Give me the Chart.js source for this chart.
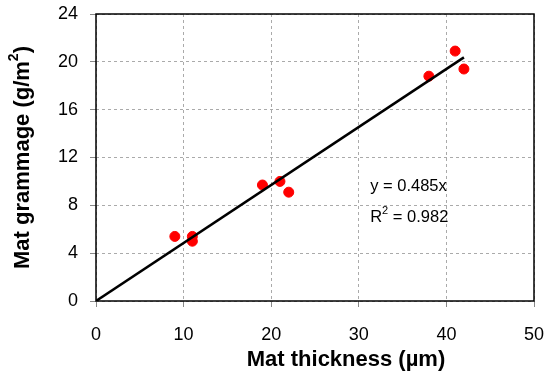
<!DOCTYPE html>
<html>
<head>
<meta charset="utf-8">
<script src="https://cdn.jsdelivr.net/npm/chart.js@4/dist/chart.umd.min.js"></script>
<style>
  html, body { margin: 0; padding: 0; background: #fff; }
  #wrap { width: 550px; height: 382px; }
</style>
</head>
<body>
<div id="wrap"><canvas id="chart" width="550" height="382"></canvas></div>
<script>
// measured points
const thickness = [9, 11, 11, 19, 21, 22, 38, 41, 42];
const grammage = [5.4, 5.4, 5.0, 9.7, 10.0, 9.1, 18.8, 20.9, 19.4];
// linear fit through origin
const slope = 0.485;
const rSquared = 0.982;
const fitX = [0, 42];
const fitY = fitX.map(x => x * slope);
const xTicks = [0, 10, 20, 30, 40, 50];
const yTicks = [0, 4, 8, 12, 16, 20, 24];

const FONT = 'Liberation Sans, Arial, sans-serif';

// draws text pieces in a row, some raised as superscript
function drawParts(ctx, parts, x, y, size) {
  let cx = x;
  parts.forEach(p => {
    const s = p.sup ? Math.round(size * 0.65) : size;
    ctx.font = (p.bold ? 'bold ' : '') + s + 'px ' + FONT;
    ctx.fillText(p.t, cx, p.sup ? y - size * 0.38 : y);
    cx += ctx.measureText(p.t).width;
  });
  return cx - x;
}

function partsWidth(ctx, parts, size) {
  let w = 0;
  parts.forEach(p => {
    const s = p.sup ? Math.round(size * 0.65) : size;
    ctx.font = (p.bold ? 'bold ' : '') + s + 'px ' + FONT;
    w += ctx.measureText(p.t).width;
  });
  return w;
}

// frame around plot, axis titles, equation text
const extras = {
  id: 'extras',
  afterDraw(chart) {
    const { ctx, chartArea: a, scales } = chart;
    ctx.save();
    ctx.strokeStyle = '#000';
    ctx.lineWidth = 1.5;
    ctx.strokeRect(a.left, a.top, a.right - a.left, a.bottom - a.top);

    ctx.fillStyle = '#000';
    ctx.textBaseline = 'middle';
    ctx.textAlign = 'left';

    // x axis title
    const xTitle = [{ t: 'Mat thickness (\u00b5m)', bold: true }];
    const xw = partsWidth(ctx, xTitle, 22);
    drawParts(ctx, xTitle, 346 - xw / 2, 360, 22);

    // y axis title
    const yTitle = [
      { t: 'Mat grammage (g/m', bold: true },
      { t: '2', bold: true, sup: true },
      { t: ')', bold: true }
    ];
    const tw = partsWidth(ctx, yTitle, 22);
    ctx.save();
    ctx.translate(23, (a.top + a.bottom) / 2);
    ctx.rotate(-Math.PI / 2);
    drawParts(ctx, yTitle, -tw / 2, 0, 22);
    ctx.restore();

    // equation
    const tx = scales.x.getPixelForValue(31.3);
    drawParts(ctx, [{ t: 'y = ' + slope + 'x' }], tx, scales.y.getPixelForValue(9.6), 16.5);
    drawParts(ctx, [{ t: 'R' }, { t: '2', sup: true }, { t: ' = ' + rSquared }],
      tx, scales.y.getPixelForValue(7.0), 16.5);
    ctx.restore();
  }
};

new Chart(document.getElementById('chart'), {
  type: 'scatter',
  data: {
    datasets: [
      {
        label: 'Fit',
        type: 'line',
        data: fitX.map((x, i) => ({ x: x, y: fitY[i] })),
        borderColor: '#000',
        borderWidth: 2.5,
        pointRadius: 0,
        fill: false
      },
      {
        label: 'Data',
        data: thickness.map((x, i) => ({ x: x, y: grammage[i] })),
        backgroundColor: '#ff0000',
        borderColor: '#ff0000',
        pointRadius: 5
      }
    ]
  },
  options: {
    responsive: false,
    animation: false,
    layout: { padding: { top: 14, right: 16, left: 0, bottom: 0 } },
    plugins: { legend: { display: false }, tooltip: { enabled: false } },
    scales: {
      x: {
        type: 'linear',
        min: 0, max: 50,
        afterBuildTicks: s => { s.ticks = xTicks.map(v => ({ value: v })); },
        afterFit: s => { s.height = 81; s.paddingLeft = 0; s.paddingRight = 0; },
        grid: { color: '#aaa', tickLength: 6, tickColor: '#888', tickBorderDash: [] },
        border: { display: false, dash: [3, 3] },
        ticks: { color: '#000', font: { family: FONT, size: 18 }, padding: 17 }
      },
      y: {
        min: 0, max: 24,
        afterBuildTicks: s => { s.ticks = yTicks.map(v => ({ value: v })); },
        afterFit: s => { s.width = 96; s.paddingTop = 0; s.paddingBottom = 0; },
        grid: { color: '#aaa', tickLength: 6, tickColor: '#888', tickBorderDash: [] },
        border: { display: false, dash: [3, 3] },
        ticks: { color: '#000', font: { family: FONT, size: 18 }, padding: 12 }
      }
    }
  },
  plugins: [extras]
});
</script>
</body>
</html>
